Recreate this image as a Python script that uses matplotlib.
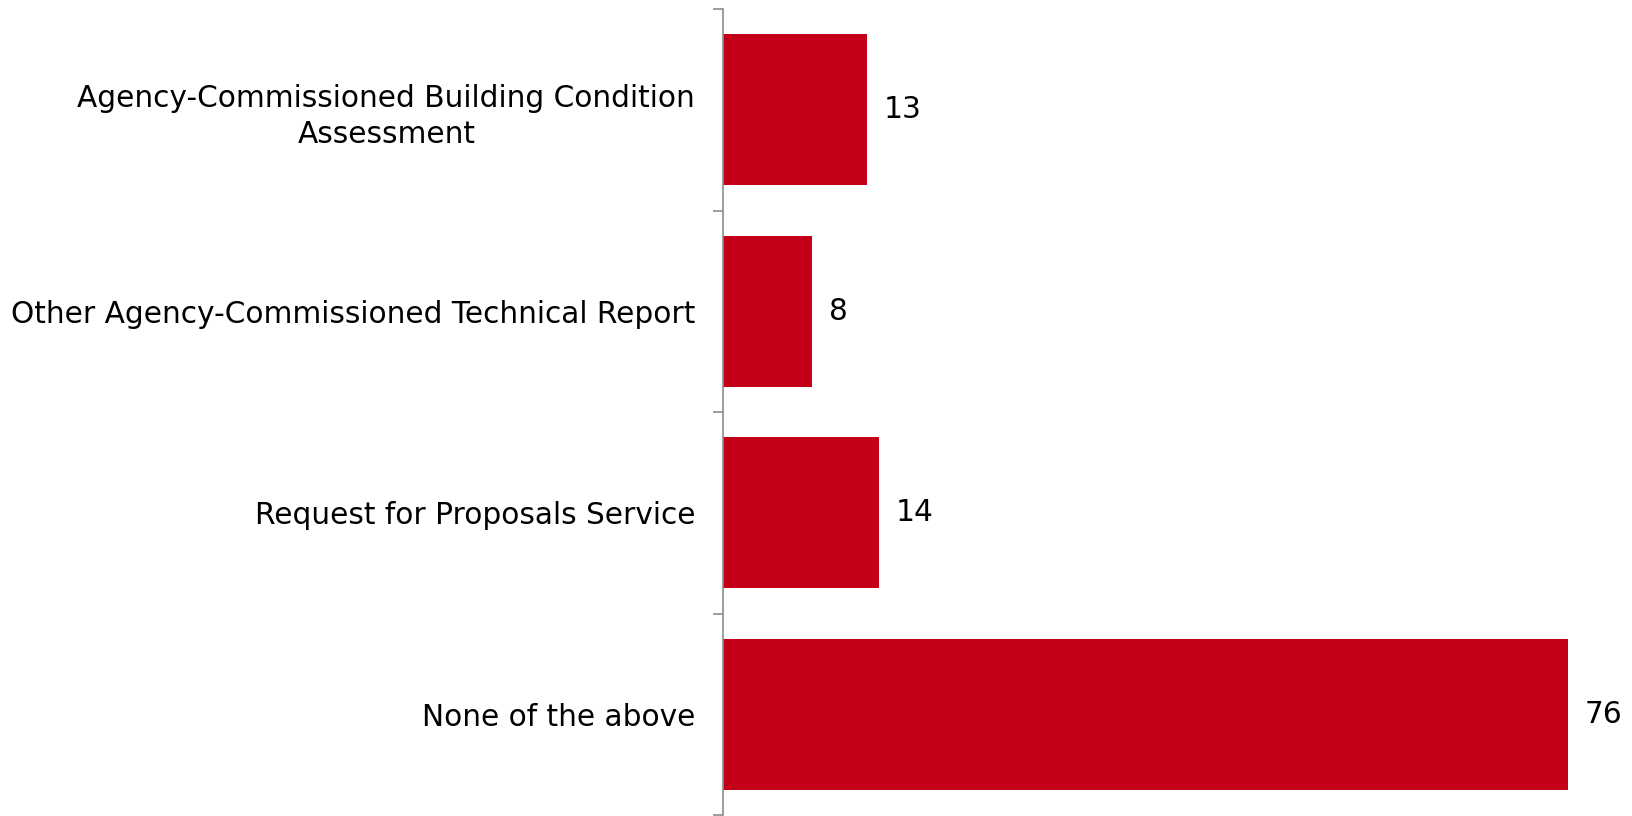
import matplotlib
matplotlib.use('Agg')
import matplotlib.pyplot as plt
import numpy as np

# ---------------- Data ----------------
categories = [
    "Agency-Commissioned Building Condition\nAssessment",
    "Other Agency-Commissioned Technical Report",
    "Request for Proposals Service",
    "None of the above",
]
counts = [13, 8, 14, 76]

BAR_COLOR = '#C40018'
AXIS_COLOR = '#8c8c8c'
FONT_SIZE = 21.3

# ---------------- Plot ----------------
fig = plt.figure(figsize=(16.33, 8.16), dpi=100)
ax = fig.add_axes([0.4427, 0.0012, 0.5448, 0.9877])

y = np.arange(len(categories))
bars = ax.barh(y, counts, height=0.75, color=BAR_COLOR)
ax.bar_label(bars, labels=[str(c) for c in counts], padding=12, fontsize=FONT_SIZE)

ax.set_xlim(0, 80)
ax.set_ylim(len(categories) - 0.5, -0.5)

# category labels, tick marks sit between categories
ax.set_yticks(y)
ax.set_yticklabels(categories, fontsize=FONT_SIZE, ha='right',
                   multialignment='center', linespacing=1.3)
ax.tick_params(axis='y', which='major', length=0, pad=20)
ax.set_yticks(np.arange(len(categories) + 1) - 0.5, minor=True)
ax.tick_params(axis='y', which='minor', length=7.2, width=1.2, color=AXIS_COLOR)

ax.set_xticks([])
for side in ['top', 'right', 'bottom']:
    ax.spines[side].set_visible(False)
ax.spines['left'].set_color(AXIS_COLOR)
ax.spines['left'].set_linewidth(1.2)

plt.savefig('out.png', dpi=100)
plt.close()
